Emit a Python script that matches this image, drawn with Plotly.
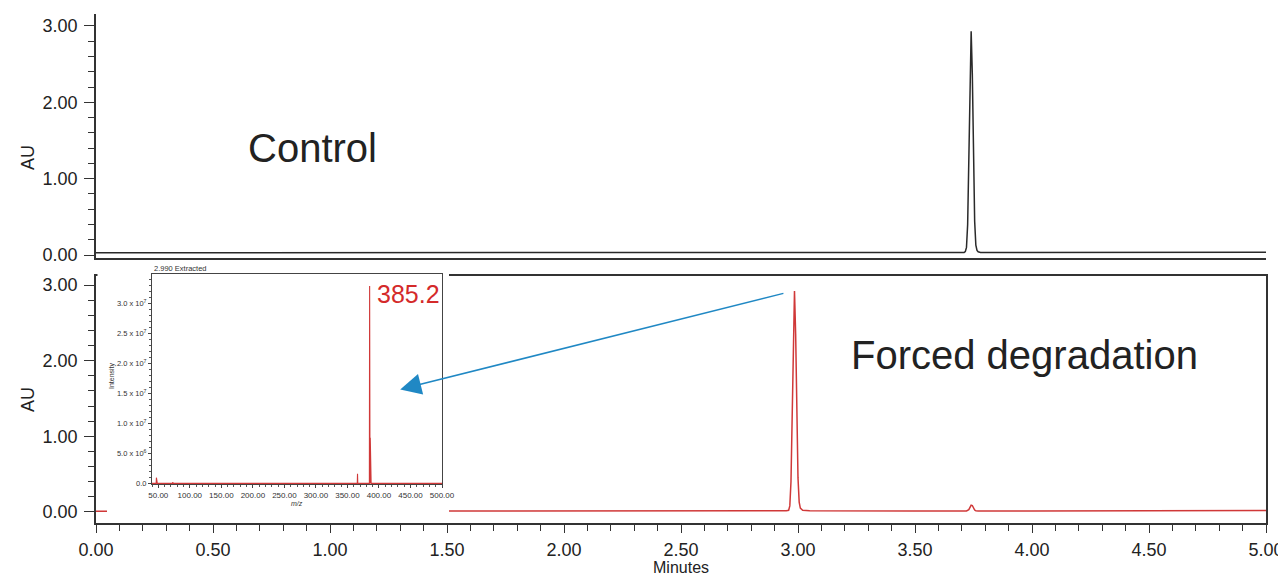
import plotly.graph_objects as go

# ---------------- data ----------------
ctrl_time = [0.00, 0.30, 0.33, 0.36, 1.00, 2.00, 3.00, 3.60,
             3.70, 3.71, 3.715, 3.72, 3.725, 3.73, 3.735, 3.74, 3.745, 3.75, 3.755, 3.76, 3.765, 3.77, 3.78, 3.80,
             3.95, 3.97, 3.99, 4.30, 4.32, 4.34, 5.00]
ctrl_au = [0.030, 0.030, 0.034, 0.030, 0.030, 0.030, 0.030, 0.030,
           0.031, 0.034, 0.045, 0.10, 0.40, 1.20, 2.34, 2.93, 2.36, 1.24, 0.44, 0.13, 0.06, 0.042, 0.034, 0.032,
           0.032, 0.036, 0.032, 0.034, 0.038, 0.036, 0.036]

deg_time = [0.00, 0.50, 1.00, 1.50, 2.00, 2.60, 2.90, 2.95, 2.96,
            2.965, 2.97, 2.975, 2.98, 2.985, 2.99, 2.995, 3.00, 3.005, 3.01, 3.02, 3.05,
            3.50, 3.72, 3.73, 3.735, 3.74, 3.745, 3.75, 3.755, 3.76, 3.77,
            4.00, 4.49, 4.50, 5.00]
deg_au = [0.010, 0.010, 0.010, 0.010, 0.010, 0.012, 0.014, 0.016, 0.022,
          0.08, 0.40, 1.19, 2.32, 2.92, 2.35, 1.25, 0.45, 0.13, 0.05, 0.022, 0.016,
          0.014, 0.014, 0.03, 0.06, 0.09, 0.085, 0.05, 0.025, 0.016, 0.014,
          0.014, 0.014, 0.020, 0.020]

ms_mz = [40, 46.6, 47, 47.4, 48, 48.4, 72.6, 73, 73.4, 365.6, 366, 366.4,
         384.8, 385.2, 385.6, 385.8, 386.2, 386.6, 386.8, 387.2, 387.6, 500]
ms_int = [0, 0, 9.5e5, 2e5, 5e5, 0, 0, 2e5, 0, 0, 1.6e6, 0,
          0, 3.29e7, 0, 0, 7.6e6, 0, 0, 1.0e6, 0, 0]

x_ticks = [0.0, 0.5, 1.0, 1.5, 2.0, 2.5, 3.0, 3.5, 4.0, 4.5, 5.0]
y_ticks = [0.0, 1.0, 2.0, 3.0]
ms_xticks = [50, 100, 150, 200, 250, 300, 350, 400, 450, 500]
ms_yticks = [0, 5e6, 1e7, 1.5e7, 2e7, 2.5e7, 3e7]
ms_ytext = ["0.0", "5.0 x 10<sup>6</sup>", "1.0 x 10<sup>7</sup>", "1.5 x 10<sup>7</sup>",
            "2.0 x 10<sup>7</sup>", "2.5 x 10<sup>7</sup>", "3.0 x 10<sup>7</sup>"]

# white mask behind the inset (screen-pixel frame of the plot area)
mask_x = [97.5, 449, 449, 107, 107, 97.5, 97.5]
mask_y = [262, 262, 517, 517, 290, 290, 262]

# ---------------- figure ----------------
W, H = 1286, 579
OFF = 8                      # page body margin of the html page
X0, X1 = 96, 1266            # plot area on screen
Y0, Y1 = OFF, 523            # plot area on screen (top, bottom)
ML = X0 - OFF
MR = W - (X1 - OFF)
MT = 0
MB = H - (Y1 - OFF)
PW = X1 - X0
PH = Y1 - Y0

def px(xp):
    return (xp - X0) / PW

def py(yp):
    return (Y1 - yp) / PH

FONT = "Liberation Sans, Arial, sans-serif"
AX = "#333333"
TXT = "#222222"
RED = "#d03838"

fig = go.Figure()
fig.add_trace(go.Scatter(x=ctrl_time, y=ctrl_au, mode="lines",
                         line=dict(color="#2a2a2a", width=1.5), xaxis="x", yaxis="y",
                         showlegend=False, hoverinfo="skip"))
fig.add_trace(go.Scatter(x=deg_time, y=deg_au, mode="lines",
                         line=dict(color=RED, width=1.5), xaxis="x2", yaxis="y2",
                         showlegend=False, hoverinfo="skip"))
fig.add_trace(go.Scatter(x=mask_x, y=mask_y, mode="lines", fill="toself",
                         fillcolor="white", line=dict(width=0, color="white"),
                         xaxis="x3", yaxis="y3", showlegend=False, hoverinfo="skip"))
fig.add_trace(go.Scatter(x=ms_mz, y=ms_int, mode="lines",
                         line=dict(color=RED, width=1.1), xaxis="x4", yaxis="y4",
                         showlegend=False, hoverinfo="skip"))

top_dom = [py(258), py(14)]
bot_dom = [py(523), py(276)]
ins_xdom = [px(152), px(442)]
ins_ydom = [py(484), py(274)]

ytick_common = dict(
    showline=True, linecolor=AX, linewidth=1.5,
    ticks="outside", ticklen=10, tickwidth=1.2, tickcolor=AX,
    tickvals=y_ticks, tickformat=".2f",
    tickfont=dict(family=FONT, size=18, color=TXT),
    ticklabelstandoff=3,
    minor=dict(dtick=0.2, tick0=0, ticks="outside", ticklen=6, tickwidth=1, tickcolor=AX),
    showgrid=False, zeroline=False,
)

fig.update_layout(
    width=W, height=H,
    margin=dict(l=ML, r=MR, t=MT, b=MB, autoexpand=False),
    paper_bgcolor="white", plot_bgcolor="rgba(0,0,0,0)",
    showlegend=False,
    xaxis=dict(domain=[0, 1], range=[0, 5], anchor="y", showline=True, linecolor=AX,
               linewidth=1.5, ticks="", showticklabels=False, showgrid=False, zeroline=False),
    yaxis=dict(domain=top_dom, range=[-0.039, 3.157], anchor="x", **ytick_common),
    xaxis2=dict(domain=[0, 1], range=[0, 5], anchor="y2", showline=True, linecolor=AX,
                linewidth=1.5, mirror=True, ticks="outside", ticklen=8, tickwidth=1.2,
                tickcolor=AX, tickvals=x_ticks, tickformat=".2f",
                tickfont=dict(family=FONT, size=18, color=TXT), ticklabelstandoff=2,
                minor=dict(dtick=0.1, tick0=0, ticks="outside", ticklen=6, tickwidth=1,
                           tickcolor=AX),
                showgrid=False, zeroline=False),
    yaxis2=dict(domain=bot_dom, range=[-0.146, 3.119], anchor="x2", mirror=True,
                **ytick_common),
    xaxis3=dict(domain=[0, 1], range=[X0, X1], anchor="y3", visible=False,
                fixedrange=True),
    yaxis3=dict(domain=[0, 1], range=[Y1, Y0], anchor="x3", visible=False,
                fixedrange=True),
    xaxis4=dict(domain=ins_xdom, range=[40, 500], anchor="y4", showline=True,
                linecolor="#444444", linewidth=1, mirror=True, ticks="outside",
                ticklen=3, tickwidth=0.8, tickcolor="#444444", tickvals=ms_xticks,
                tickformat=".2f", tickfont=dict(family=FONT, size=8, color="#333333"),
                ticklabelstandoff=0,
                minor=dict(dtick=10, tick0=0, ticks="outside", ticklen=2, tickwidth=0.6,
                           tickcolor="#555555"),
                showgrid=False, zeroline=False),
    yaxis4=dict(domain=ins_ydom, range=[-0.1e6, 3.49e7], anchor="x4", showline=True,
                linecolor="#444444", linewidth=1, mirror=True, ticks="outside",
                ticklen=3, tickwidth=0.8, tickcolor="#444444", tickvals=ms_yticks,
                ticktext=ms_ytext, tickfont=dict(family=FONT, size=7.5, color="#333333"),
                ticklabelstandoff=0,
                minor=dict(dtick=1e6, tick0=0, ticks="outside", ticklen=2, tickwidth=0.6,
                           tickcolor="#555555"),
                showgrid=False, zeroline=False),
)

ann = []
ann.append(dict(text="Control", x=0.927, y=1.40, xref="x", yref="y", showarrow=False,
                font=dict(family=FONT, size=40, color=TXT), xanchor="center", yanchor="middle"))
ann.append(dict(text="Forced degradation", x=3.966, y=2.08, xref="x2", yref="y2",
                showarrow=False, font=dict(family=FONT, size=40, color=TXT),
                xanchor="center", yanchor="middle"))
ann.append(dict(text="AU", x=px(28), y=py(158), xref="paper", yref="paper", showarrow=False,
                textangle=-90, font=dict(family=FONT, size=18, color=TXT),
                xanchor="center", yanchor="middle"))
ann.append(dict(text="AU", x=px(28), y=py(400), xref="paper", yref="paper", showarrow=False,
                textangle=-90, font=dict(family=FONT, size=18, color=TXT),
                xanchor="center", yanchor="middle"))
ann.append(dict(text="Minutes", x=px(681), y=py(567), xref="paper", yref="paper",
                showarrow=False, font=dict(family=FONT, size=16, color=TXT),
                xanchor="center", yanchor="middle"))
ann.append(dict(text="2.990 Extracted", x=px(152), y=py(268), xref="paper", yref="paper",
                showarrow=False, font=dict(family=FONT, size=7.5, color="#333333"),
                xanchor="left", yanchor="middle"))
ann.append(dict(text="Intensity", x=px(112), y=py(376), xref="paper", yref="paper",
                showarrow=False, textangle=-90, font=dict(family=FONT, size=7, color="#333333"),
                xanchor="center", yanchor="middle"))
ann.append(dict(text="<i>m/z</i>", x=px(297), y=py(503), xref="paper", yref="paper",
                showarrow=False, font=dict(family=FONT, size=7, color="#333333"),
                xanchor="center", yanchor="middle"))
ann.append(dict(text="385.2", x=385.2, y=3.16e7, xref="x4", yref="y4", showarrow=False,
                xshift=5, font=dict(family=FONT, size=25, color="#d42a2a"),
                xanchor="left", yanchor="middle"))
# arrow from the peak at 2.99 min to the inset spectrum
ann.append(dict(text="", x=1.30, y=1.62, xref="x2", yref="y2", ax=2.944, ay=2.894,
                axref="x2", ayref="y2", showarrow=True, arrowhead=2, arrowsize=2.8,
                arrowwidth=1.5, arrowcolor="#2088c4", standoff=0))
fig.update_layout(annotations=ann)

fig.write_html("out.html")
